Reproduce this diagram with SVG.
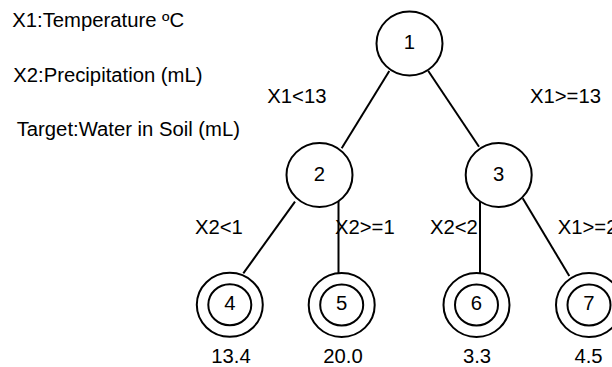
<svg xmlns="http://www.w3.org/2000/svg" width="612" height="367" viewBox="0 0 612 367">
<style>
text{font-family:"Liberation Sans",Arial,sans-serif;font-size:19.5px;fill:#000}
.c{text-anchor:middle}
.n{fill:#fff;stroke:#000;stroke-width:2}
.e line{stroke:#000;stroke-width:2}
</style>
<rect width="612" height="367" fill="#fff"/>
<g id="legend">
<text transform="matrix(1.04 0 0 1 12.3 26.7)">X1:Temperature ºC</text>
<text transform="matrix(1.04 0 0 1 13.3 82.3)">X2:Precipitation (mL)</text>
<text transform="matrix(1.04 0 0 1 16.7 136)">Target:Water in Soil (mL)</text>
</g>
<g id="connectors" class="e">
<line x1="389.3" y1="71" x2="341.7" y2="148.3"/>
<line x1="428.3" y1="71" x2="479" y2="146.7"/>
<line x1="295" y1="201.7" x2="243.3" y2="273.3"/>
<line x1="338.5" y1="201" x2="338.5" y2="273.5"/>
<line x1="480" y1="200" x2="480" y2="273.5"/>
<line x1="522.7" y1="198.3" x2="569.3" y2="276"/>
</g>
<g id="edge-labels">
<text transform="matrix(1.04 0 0 1 267.3 102.7)">X1&lt;13</text>
<text transform="matrix(1.04 0 0 1 530 102.7)">X1&gt;=13</text>
<text transform="matrix(1.04 0 0 1 195 234)">X2&lt;1</text>
<text transform="matrix(1.04 0 0 1 335 234)">X2&gt;=1</text>
<text transform="matrix(1.04 0 0 1 430 234)">X2&lt;2</text>
<text transform="matrix(1.04 0 0 1 557.7 233.5)">X1&gt;=2</text>
</g>
<g id="node1">
<ellipse class="n" cx="409.5" cy="43.5" rx="33" ry="32"/>
<text class="c" transform="matrix(1.04 0 0 1 409.5 49)">1</text>
</g>
<g id="node2">
<ellipse class="n" cx="319.5" cy="175" rx="33" ry="32"/>
<text class="c" transform="matrix(1.04 0 0 1 319.5 180.5)">2</text>
</g>
<g id="node3">
<ellipse class="n" cx="498.7" cy="175" rx="33" ry="32"/>
<text class="c" transform="matrix(1.04 0 0 1 498.7 180.5)">3</text>
</g>
<g id="node4">
<ellipse class="n" cx="229.8" cy="304.8" rx="33" ry="32"/>
<ellipse class="n" cx="229.8" cy="304.8" rx="21.5" ry="20.5"/>
<text class="c" transform="matrix(1.04 0 0 1 229.8 310)">4</text>
<text class="c" transform="matrix(1.04 0 0 1 231 363)">13.4</text>
</g>
<g id="node5">
<ellipse class="n" cx="341.7" cy="305" rx="33" ry="32"/>
<ellipse class="n" cx="341.7" cy="305" rx="21.5" ry="20.5"/>
<text class="c" transform="matrix(1.04 0 0 1 341.7 310)">5</text>
<text class="c" transform="matrix(1.04 0 0 1 343 363)">20.0</text>
</g>
<g id="node6">
<ellipse class="n" cx="476.5" cy="305" rx="33" ry="32"/>
<ellipse class="n" cx="476.5" cy="305" rx="21.5" ry="20.5"/>
<text class="c" transform="matrix(1.04 0 0 1 476.5 310)">6</text>
<text class="c" transform="matrix(1.04 0 0 1 477 363)">3.3</text>
</g>
<g id="node7">
<ellipse class="n" cx="589" cy="305" rx="33" ry="32"/>
<ellipse class="n" cx="589" cy="305" rx="21.5" ry="20.5"/>
<text class="c" transform="matrix(1.04 0 0 1 589 310)">7</text>
<text class="c" transform="matrix(1.04 0 0 1 588.5 363)">4.5</text>
</g>
</svg>
